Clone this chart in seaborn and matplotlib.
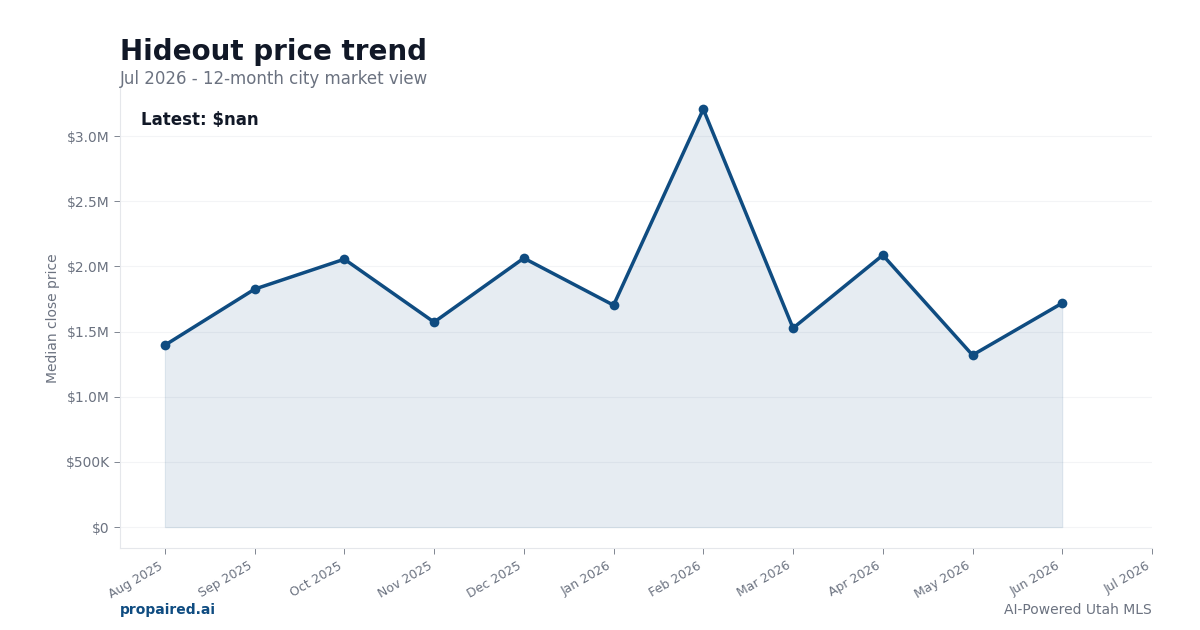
import matplotlib
matplotlib.use("Agg")
from matplotlib import pyplot as plt
from matplotlib.ticker import FuncFormatter
import seaborn as sns
import numpy as np
import pandas as pd

months = ["Aug 2025", "Sep 2025", "Oct 2025", "Nov 2025", "Dec 2025", "Jan 2026",
          "Feb 2026", "Mar 2026", "Apr 2026", "May 2026", "Jun 2026", "Jul 2026"]
median_price = [1396000, 1826000, 2056000, 1573000, 2064000, 1703000,
                3207000, 1527000, 2087000, 1320000, 1719000, np.nan]

LINE = "#0f4c81"
GRAY = "#6b7280"
DARK = "#111827"
SPINE = "#e5e7eb"

sns.set_style("white")
plt.rcParams["font.family"] = ["DejaVu Sans"]

df = pd.DataFrame({"month": months, "price": median_price})
df["idx"] = np.arange(len(df))

fig = plt.figure(figsize=(12, 6.3), dpi=100)
ax = fig.add_axes([0.1, 0.13, 0.86, 0.73])

ax.fill_between(df["idx"], df["price"], color=LINE, alpha=0.1, linewidth=0.8)
sns.lineplot(data=df, x="idx", y="price", ax=ax, color=LINE, linewidth=2.5,
             marker="o", markersize=7, markeredgewidth=0)

ax.set_xlim(-0.5, 11)
ax.set_ylim(-161000, 3368000)
ax.set_yticks([0, 500000, 1000000, 1500000, 2000000, 2500000, 3000000])

def fmt(v, pos):
    if v == 0:
        return "$0"
    if v >= 1e6:
        return f"${v/1e6:.1f}M"
    return f"${v/1e3:.0f}K"

ax.yaxis.set_major_formatter(FuncFormatter(fmt))
ax.set_xticks(df["idx"])
ax.set_xticklabels(months, rotation=30, ha="right", fontsize=9, color=GRAY)
ax.tick_params(axis="y", labelsize=10, labelcolor=GRAY, color=GRAY, length=4, width=0.6, left=True)
ax.tick_params(axis="x", color=GRAY, length=4, width=0.6, bottom=True, pad=4)

ax.grid(axis="y", color="#f3f4f6", linewidth=0.8)
ax.set_axisbelow(True)
for side in ["top", "right"]:
    ax.spines[side].set_visible(False)
for side in ["left", "bottom"]:
    ax.spines[side].set_color(SPINE)
    ax.spines[side].set_linewidth(0.8)

ax.set_xlabel("")
ax.set_ylabel("Median close price", fontsize=10, color=GRAY, labelpad=4)

latest = df["price"].iloc[-1]
ax.text(0.02, 0.93, f"Latest: ${latest:,.0f}" if not np.isnan(latest) else "Latest: $nan",
        transform=ax.transAxes, fontsize=12, fontweight="bold", color=DARK, va="center")

fig.text(0.1, 0.918, "Hideout price trend", fontsize=20, fontweight="bold", color=DARK, va="center")
fig.text(0.1, 0.875, "Jul 2026 - 12-month city market view", fontsize=12, color=GRAY, va="center")
fig.text(0.1, 0.032, "propaired.ai", fontsize=10, fontweight="bold", color=LINE, va="center")
fig.text(0.96, 0.032, "AI-Powered Utah MLS", fontsize=10, color=GRAY, va="center", ha="right")

fig.savefig("out.png", dpi=100)
